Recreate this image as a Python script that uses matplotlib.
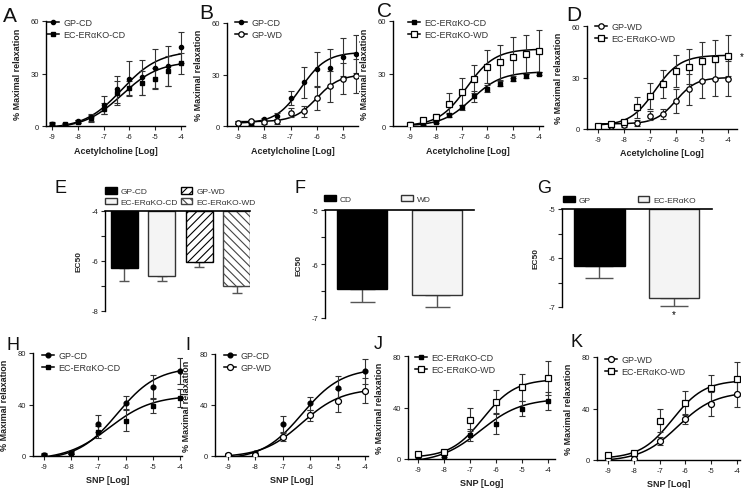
import numpy as np
import matplotlib.pyplot as plt
from matplotlib.lines import Line2D
from matplotlib.patches import Patch

plt.rcParams['font.family'] = ['Liberation Sans', 'DejaVu Sans']
plt.rcParams['axes.unicode_minus'] = False
plt.rcParams['hatch.linewidth'] = 0.8

W, H = 750, 489

# ---- data ----
ach_x = [-9, -8.5, -8, -7.5, -7, -6.5, -6, -5.5, -5, -4.5, -4]
ach_x_b = ach_x[:-1]
snp_x = [-9, -8, -7, -6, -5, -4]

a_gp_cd = [1.3, 0.8, 2.7, 5, 12, 21, 27, 28, 33, 34.5, 45]
a_gp_cd_err = [1, 0.5, 1, 2, 5.3, 7.8, 10, 10, 11, 11.5, 9]
a_ec_cd = [1, 1, 2.5, 4.5, 10, 19, 21.5, 24.5, 27, 31.5, 36]
a_ec_cd_err = [0.5, 0.5, 1, 2, 3, 7, 4, 7, 6, 8.5, 6]

b_gp_cd = [2, 1, 3.9, 5.8, 16.2, 25.5, 33, 33.8, 40, 42]
b_gp_cd_err = [1, 0.5, 1, 2, 4, 9, 10, 11, 11, 11]
b_gp_wd = [2, 2.7, 2.3, 2.7, 7.7, 8.5, 16.2, 23.2, 27.5, 29]
b_gp_wd_err = [1, 1, 1, 1.5, 2.5, 3, 7, 9, 9, 10]

c_ec_cd = [1, 1, 2.3, 6.4, 10.6, 17, 21.3, 24.2, 26.7, 28.6, 30]
c_ec_cd_err = [0.5, 0.5, 0.8, 1, 1.5, 3, 2, 1.5, 1, 1, 1]
c_ec_wd = [0.6, 3.5, 5.4, 12.6, 19.7, 26.7, 33.9, 36.4, 39.7, 41, 42.6]
c_ec_wd_err = [0.5, 1, 1.5, 6, 7.5, 8, 9.5, 10, 11, 11, 12]

d_gp_wd = [1.5, 1.9, 2.3, 3.5, 7.7, 8.7, 16.4, 23.2, 28, 29, 29.4]
d_gp_wd_err = [1, 1, 1, 1.5, 2.5, 3, 7, 9, 10, 10, 10]
d_ec_wd = [1.9, 2.9, 3.9, 12.6, 19.4, 26.1, 33.8, 36.4, 39.7, 41, 42.6]
d_ec_wd_err = [1, 1, 1.5, 6, 7.5, 8, 9.5, 10, 11, 11, 12]

snp_gp_cd = [1, 2.6, 25, 41.3, 53.4, 66.3]
snp_gp_cd_err = [1, 1, 6.5, 5, 9.5, 10]
snp_ec_cd = [1, 2.6, 18.6, 27.4, 39.2, 45]
snp_ec_cd_err = [0.5, 1, 5, 8, 6, 7]
snp_gp_wd = [1, 1, 14.8, 31.8, 43.5, 51.3]
snp_gp_wd_err = [0.5, 0.5, 3, 4, 9, 10]
snp_ec_wd = [3.9, 5.7, 30.6, 44.2, 55.8, 62.9]
snp_ec_wd_err = [1, 1.5, 9, 9.5, 10.5, 13]

# fitted curves: (bottom, top, logEC50, hill slope)
fit_a_gp_cd = (-1.5, 43, -6.3, 0.6)
fit_a_ec_cd = (-1.5, 37, -6.3, 0.6)
fit_b_gp_cd = (1.5, 43, -6.6, 0.9)
fit_b_gp_wd = (2.5, 30, -6.0, 1.0)
fit_c_ec_cd = (0, 31, -6.6, 0.75)
fit_c_ec_wd = (0, 44, -6.8, 0.8)
fit_d_gp_wd = (3, 30, -6.0, 1.1)
fit_d_ec_wd = (2, 43, -6.8, 0.9)
fit_snp_gp_cd = (-3, 69, -6.3, 0.6)
fit_snp_ec_cd = (-3, 47, -6.6, 0.55)
fit_snp_gp_wd = (-1, 53, -6.3, 0.6)
fit_snp_ec_wd = (1, 62, -6.5, 0.7)

e_labels = ['GP-CD', 'EC-ERαKO-CD', 'GP-WD', 'EC-ERαKO-WD']
e_ec50 = [-6.28, -6.6, -6.04, -7.0]
e_err = [0.52, 0.18, 0.18, 0.28]
f_labels = ['CD', 'WD']
f_ec50 = [-6.46, -6.57]
f_err = [0.24, 0.23]
g_labels = ['GP', 'EC-ERαKO']
g_ec50 = [-6.16, -6.82]
g_err = [0.24, 0.16]


def rect(x0, y0, x1, y1):
    return [x0 / W, 1 - y1 / H, (x1 - x0) / W, (y1 - y0) / H]


def fxy(x, y):
    return (x / W, 1 - y / H)


def hill(x, bottom, top, logec50, slope):
    return bottom + (top - bottom) / (1 + 10 ** ((logec50 - x) * slope))


def mk(kind, big=False):
    s = 3.0 if not big else 3.4
    if kind == 'fc':
        return dict(marker='o', markersize=s, markerfacecolor='black', markeredgecolor='black')
    if kind == 'fs':
        return dict(marker='s', markersize=s, markerfacecolor='black', markeredgecolor='black')
    if kind == 'oc':
        return dict(marker='o', markersize=s + 0.9, markerfacecolor='white',
                    markeredgecolor='black', markeredgewidth=0.9)
    return dict(marker='s', markersize=s + 0.9, markerfacecolor='white',
                markeredgecolor='black', markeredgewidth=0.9)


fig = plt.figure(figsize=(W / 100, H / 100), dpi=100)


def dose_panel(box, xlim, ymax, yticks, xlabel, groups, leg_xy, big=False):
    ax = fig.add_axes(rect(*box))
    handles = []
    for x, y, err, fit, kind, label in groups:
        xs = np.linspace(x[0], x[-1], 200)
        ax.plot(xs, hill(xs, *fit), color='black', lw=1.1, zorder=2)
        ax.errorbar(x, y, yerr=err, fmt='none', ecolor='#333333', elinewidth=0.8,
                    capsize=2.2, capthick=0.8, zorder=3)
        ax.plot(x, y, linestyle='none', zorder=4, **mk(kind, big))
        handles.append(Line2D([], [], color='black', lw=1.1, label=label, **mk(kind, big)))
    ax.set_xlim(*xlim)
    ax.set_ylim(0, ymax)
    ax.set_xticks([-9, -8, -7, -6, -5, -4] if xlim[1] > -4 else [-9, -8, -7, -6, -5])
    ax.set_yticks(yticks)
    for s in ['top', 'right']:
        ax.spines[s].set_visible(False)
    for s in ['left', 'bottom']:
        ax.spines[s].set_linewidth(1)
    ax.tick_params(labelsize=5.5, length=3, width=0.8, pad=2, colors='#222222')
    ax.set_xlabel(xlabel, fontsize=6.5, fontweight='bold', color='#222222', labelpad=4)
    ax.set_ylabel('% Maximal relaxation', fontsize=6.5, fontweight='bold',
                  color='#222222', labelpad=6)
    ax.legend(handles=handles, loc='upper left', bbox_to_anchor=fxy(*leg_xy),
              bbox_transform=fig.transFigure, frameon=False, fontsize=6.5,
              borderpad=0, borderaxespad=0, handlelength=1.35, handletextpad=0.45,
              labelspacing=0.35, labelcolor='#333333')
    return ax


def ec50_panel(box, xlim, width, values, errs, top, bottom, major, minor,
               faces, edges, hatches, labels, capsize, leg_xy, leg_ncol, colspace):
    ax = fig.add_axes(rect(*box))
    x = np.arange(len(values))
    ax.bar(x, np.array(values) - top, bottom=top, width=width, color=faces,
           edgecolor=edges, hatch=hatches, linewidth=1, zorder=2)
    ax.errorbar(x, values, yerr=[errs, np.zeros(len(errs))], fmt='none',
                ecolor='#555555', elinewidth=1, capsize=capsize, capthick=1, zorder=1)
    ax.set_xlim(*xlim)
    ax.set_ylim(bottom, top)
    ax.set_xticks([])
    ax.set_yticks(major)
    ax.set_yticks(minor, minor=True)
    ax.spines['bottom'].set_visible(False)
    ax.spines['right'].set_visible(False)
    ax.spines['top'].set_linewidth(1.2)
    ax.spines['left'].set_linewidth(1)
    ax.tick_params(axis='y', which='both', labelsize=5.5, length=3, width=0.8,
                   pad=2, colors='#222222')
    ax.set_ylabel('EC50', fontsize=6, fontweight='bold', color='#222222', labelpad=6)
    handles = [Patch(facecolor=fc, edgecolor=ec, hatch=h, label=l, linewidth=1)
               for fc, ec, h, l in zip(faces, edges, hatches, labels)]
    ax.legend(handles=handles, loc='lower left', bbox_to_anchor=fxy(*leg_xy),
              bbox_transform=fig.transFigure, ncol=leg_ncol, frameon=False,
              fontsize=6, borderpad=0, borderaxespad=0, handlelength=1.4,
              handleheight=0.8, handletextpad=0.5, columnspacing=colspace,
              labelspacing=0.3, labelcolor='#333333')
    return ax


# ---- top row: acetylcholine ----
dose_panel((46, 22, 185, 127), (-9.23, -3.85), 60, [0, 30, 60], 'Acetylcholine [Log]',
           [(ach_x, a_gp_cd, a_gp_cd_err, fit_a_gp_cd, 'fc', 'GP-CD'),
            (ach_x, a_ec_cd, a_ec_cd_err, fit_a_ec_cd, 'fs', 'EC-ERαKO-CD')],
           (47, 19))
dose_panel((227, 24, 358, 127), (-9.42, -4.43), 60, [0, 30, 60], 'Acetylcholine [Log]',
           [(ach_x_b, b_gp_cd, b_gp_cd_err, fit_b_gp_cd, 'fc', 'GP-CD'),
            (ach_x_b, b_gp_wd, b_gp_wd_err, fit_b_gp_wd, 'oc', 'GP-WD')],
           (235, 19))
dose_panel((393, 22, 543, 127), (-9.66, -3.84), 60, [0, 30, 60], 'Acetylcholine [Log]',
           [(ach_x, c_ec_cd, c_ec_cd_err, fit_c_ec_cd, 'fs', 'EC-ERαKO-CD'),
            (ach_x, c_ec_wd, c_ec_wd_err, fit_c_ec_wd, 'os', 'EC-ERαKO-WD')],
           (408, 19))
ax_d = dose_panel((587, 27, 737, 130), (-9.42, -3.65), 60, [0, 30, 60], 'Acetylcholine [Log]',
                  [(ach_x, d_gp_wd, d_gp_wd_err, fit_d_gp_wd, 'oc', 'GP-WD'),
                   (ach_x, d_ec_wd, d_ec_wd_err, fit_d_ec_wd, 'os', 'EC-ERαKO-WD')],
                  (595, 23))
ax_d.text(-3.46, 42.5, '*', fontsize=7, ha='center', va='center', clip_on=False)

# ---- middle row: EC50 bars ----
ec50_panel((105, 212, 250, 312), (-0.52, 3.36), 0.72, e_ec50, e_err, -4, -8,
           [-4, -6, -8], [-5, -7],
           ['black', '#f4f4f4', 'white', 'white'], ['black', '#333333', 'black', '#444444'],
           ['', '', '////', '\\\\\\\\'], e_labels, 3.6, (105, 207), 2, 0.3)
ec50_panel((325, 211, 474, 319), (-0.49, 1.49), 0.67, f_ec50, f_err, -5, -7,
           [-5, -6, -7], [-5.5, -6.5],
           ['black', '#f4f4f4'], ['black', '#333333'], ['', ''], f_labels, 9,
           (324, 204), 2, 5.9)
ax_g = ec50_panel((562, 210, 712, 308), (-0.5, 1.51), 0.68, g_ec50, g_err, -5, -7,
                  [-5, -6, -7], [-5.5, -6.5],
                  ['black', '#f4f4f4'], ['black', '#333333'], ['', ''], g_labels, 10,
                  (563, 205), 2, 5.6)
ax_g.text(1, -7.14, '*', fontsize=7, ha='center', va='center', clip_on=False)

# ---- bottom row: SNP ----
dose_panel((33, 354, 182, 457), (-9.4, -3.93), 80, [0, 40, 80], 'SNP [Log]',
           [(snp_x, snp_gp_cd, snp_gp_cd_err, fit_snp_gp_cd, 'fc', 'GP-CD'),
            (snp_x, snp_ec_cd, snp_ec_cd_err, fit_snp_ec_cd, 'fs', 'EC-ERαKO-CD')],
           (42, 352), big=True)
dose_panel((215, 355, 368, 457), (-9.47, -3.9), 80, [0, 40, 80], 'SNP [Log]',
           [(snp_x, snp_gp_cd, snp_gp_cd_err, fit_snp_gp_cd, 'fc', 'GP-CD'),
            (snp_x, snp_gp_wd, snp_gp_wd_err, fit_snp_gp_wd, 'oc', 'GP-WD')],
           (224, 352), big=True)
dose_panel((408, 357, 555, 460), (-9.38, -3.73), 80, [0, 40, 80], 'SNP [Log]',
           [(snp_x, snp_ec_cd, snp_ec_cd_err, fit_snp_ec_cd, 'fs', 'EC-ERαKO-CD'),
            (snp_x, snp_ec_wd, snp_ec_wd_err, fit_snp_ec_wd, 'os', 'EC-ERαKO-WD')],
           (415, 354), big=True)
dose_panel((597, 358, 740, 461), (-9.43, -3.88), 80, [0, 40, 80], 'SNP [Log]',
           [(snp_x, snp_gp_wd, snp_gp_wd_err, fit_snp_gp_wd, 'oc', 'GP-WD'),
            (snp_x, snp_ec_wd, snp_ec_wd_err, fit_snp_ec_wd, 'os', 'EC-ERαKO-WD')],
           (605, 356), big=True)

# ---- panel letters ----
letters = [('A', 3, 22, 15), ('B', 199, 19, 15), ('C', 377, 17, 15), ('D', 566, 21, 15),
           ('E', 55, 193, 13), ('F', 295, 193, 13), ('G', 537, 193, 13),
           ('H', 6, 350, 13), ('I', 185, 350, 13), ('J', 374, 349, 13), ('K', 570, 347, 13)]
for t, x, y, s in letters:
    fig.text(*fxy(x, y), t, fontsize=s, va='baseline', ha='left', color='#111111')

fig.savefig('out.png', dpi=100)
